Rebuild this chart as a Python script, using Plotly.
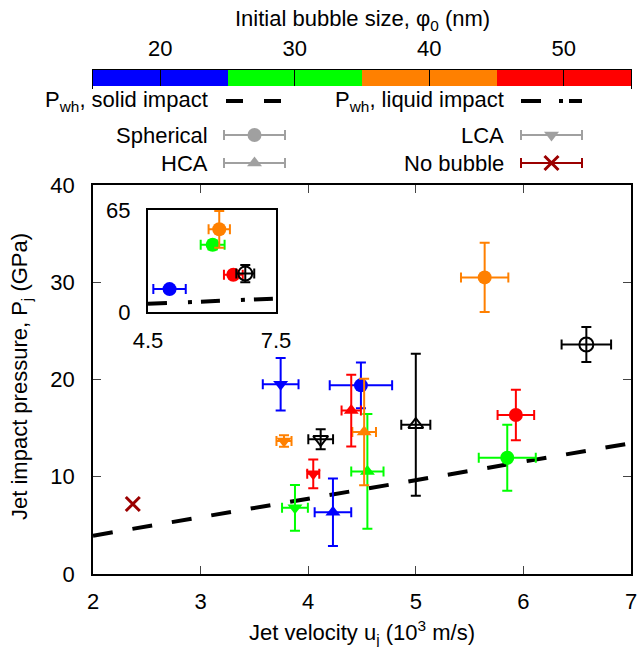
import plotly.graph_objects as go

FONT = "Liberation Sans, Arial, Helvetica, sans-serif"
FS = 22

# ---------------- data ----------------
size_colors = {20: "#0000ff", 30: "#00ff00", 40: "#ff8000", 50: "#ff0000", 0: "#000000"}
cbar_sizes = [20, 30, 40, 50]
cbar_edges = [15, 25, 35, 45, 55]
cbar_ticks = [20, 30, 40, 50]

# water-hammer pressure lines
solid_u = [2.0, 7.0]
solid_p = [3.94, 13.45]
liquid_u = [4.5, 7.5]
liquid_p = [5.2, 8.6]

# Spherical bubbles (size 0 = black open marker)
sph_u = [4.49, 5.64, 5.93, 5.85, 6.585]
sph_p = [19.4, 30.5, 16.35, 11.95, 23.6]
sph_du = [0.29, 0.22, 0.17, 0.265, 0.23]
sph_dp = [2.35, 3.56, 2.6, 3.4, 1.8]
sph_size = [20, 40, 50, 30, 0]

# HCA bubbles
hca_u = [4.23, 4.55, 4.52, 4.40, 5.0]
hca_p = [6.35, 10.55, 14.6, 16.8, 15.35]
hca_du = [0.17, 0.15, 0.11, 0.09, 0.135]
hca_dp = [3.48, 5.9, 5.47, 3.7, 7.3]
hca_size = [20, 30, 40, 50, 0]

# LCA bubbles
lca_u = [3.744, 3.877, 3.775, 4.047, 4.116]
lca_p = [19.5, 6.8, 13.68, 10.3, 13.85]
lca_du = [0.166, 0.12, 0.07, 0.056, 0.115]
lca_dp = [2.7, 2.34, 0.6, 1.48, 1.03]
lca_size = [20, 30, 40, 50, 0]

# No bubble
nobub_u = [2.37]
nobub_p = [7.2]

# Inset (spherical, liquid impact)
inset_u = [5.005, 6.015, 6.17, 6.5, 6.78]
inset_p = [14.6, 42.8, 52.7, 23.7, 24.5]
inset_du = [0.38, 0.28, 0.25, 0.22, 0.21]
inset_dp = [1.5, 3.0, 11.7, 2.0, 5.5]
inset_size = [20, 30, 40, 50, 0]

GREY = "#a0a0a0"
DARKRED = "#9b0000"
DASH_SOLID = "20px,20px"
DASH_LIQ = "19px,21px,4px,9px"

fig = go.Figure()


def add_points(us, ps, dus, dps, sizes, symbol, xa="x", ya="y", msize=13):
    for u, p, du, dp, s in zip(us, ps, dus, dps, sizes):
        c = size_colors[s]
        sym = symbol if s != 0 else symbol + "-open"
        fig.add_trace(go.Scatter(
            x=[u], y=[p], mode="markers", xaxis=xa, yaxis=ya, showlegend=False,
            marker=dict(symbol=sym, size=msize, color=c,
                        line=dict(width=2 if s == 0 else 0, color=c)),
            error_x=dict(type="data", array=[du], color=c, thickness=2, width=5),
            error_y=dict(type="data", array=[dp], color=c, thickness=2, width=5),
            cliponaxis=False,
        ))


# main plot
fig.add_trace(go.Scatter(x=solid_u, y=solid_p, mode="lines", showlegend=False,
                         line=dict(color="black", width=4, dash=DASH_SOLID)))
add_points(sph_u, sph_p, sph_du, sph_dp, sph_size, "circle", msize=14)
add_points(hca_u, hca_p, hca_du, hca_dp, hca_size, "triangle-up")
add_points(lca_u, lca_p, lca_du, lca_dp, lca_size, "triangle-down")
fig.add_trace(go.Scatter(x=nobub_u, y=nobub_p, mode="markers", showlegend=False,
                         marker=dict(symbol="x-thin", size=14,
                                     line=dict(width=3, color=DARKRED))))

# inset
fig.add_trace(go.Scatter(x=liquid_u, y=liquid_p, mode="lines", showlegend=False,
                         xaxis="x3", yaxis="y3",
                         line=dict(color="black", width=4, dash=DASH_LIQ)))
add_points(inset_u, inset_p, inset_du, inset_dp, inset_size, "circle", "x3", "y3", msize=14)

# colour bar (heatmap strip)
fig.add_trace(go.Heatmap(
    x=cbar_edges, y=[0], z=[cbar_sizes], xaxis="x2", yaxis="y2", showscale=False,
    colorscale=[[0, size_colors[20]], [0.25, size_colors[20]],
                [0.25, size_colors[30]], [0.5, size_colors[30]],
                [0.5, size_colors[40]], [0.75, size_colors[40]],
                [0.75, size_colors[50]], [1, size_colors[50]]],
    zmin=15, zmax=55, hoverinfo="skip"))

# ---------------- legend (key) ----------------
row_y = [101, 135, 163]
lx0, lx1 = 224, 285
rx0, rx1 = 521, 582
fig.add_trace(go.Scatter(x=[226, 282], y=[row_y[0]] * 2, mode="lines", xaxis="x4", yaxis="y4",
                         showlegend=False, line=dict(color="black", width=4, dash="17px,21px")))
fig.add_trace(go.Scatter(x=[rx0, rx1], y=[row_y[0]] * 2, mode="lines", xaxis="x4", yaxis="y4",
                         showlegend=False, line=dict(color="black", width=4, dash="20px,18px,4px,6px")))


def key_sample(x0, x1, y, symbol, color, msize, lw=0):
    xc = (x0 + x1) / 2
    fig.add_trace(go.Scatter(
        x=[xc], y=[y], mode="markers", xaxis="x4", yaxis="y4", showlegend=False,
        marker=dict(symbol=symbol, size=msize, color=color, line=dict(width=lw, color=color)),
        error_x=dict(type="data", array=[(x1 - x0) / 2], color=color, thickness=2, width=5),
        cliponaxis=False))


key_sample(lx0, lx1, row_y[1], "circle", GREY, 14)
key_sample(lx0, lx1, row_y[2], "triangle-up", GREY, 13)
key_sample(rx0, rx1, row_y[1], "triangle-down", GREY, 13)
key_sample(rx0, rx1, row_y[2], "x-thin", DARKRED, 14, lw=3)

W, H = 642, 647
ML, MR, MT, MB = 93, 11, 65, 73
PW = W - ML - MR
PH = H - MT - MB


def px_x(px):
    return (px - ML) / PW


def px_y(py):
    return (H - MB - py) / PH


key_texts = [
    ("P<sub>wh</sub>, solid impact", 210, row_y[0]),
    ("Spherical", 210, row_y[1]),
    ("HCA", 210, row_y[2]),
    ("P<sub>wh</sub>, liquid impact", 506, row_y[0]),
    ("LCA", 506, row_y[1]),
    ("No bubble", 506, row_y[2]),
]
annotations = []
for txt, xr, yy in key_texts:
    annotations.append(dict(text=txt, x=px_x(xr), y=px_y(yy), xref="paper", yref="paper",
                            xanchor="right", yanchor="middle", showarrow=False,
                            font=dict(size=FS, color="black", family=FONT)))
annotations.append(dict(text="Initial bubble size, \u03c6<sub>0</sub> (nm)", x=px_x(362), y=px_y(20),
                        xref="paper", yref="paper", xanchor="center", yanchor="middle",
                        showarrow=False, font=dict(size=FS, color="black", family=FONT)))
annotations.append(dict(text="Jet velocity u<sub>j</sub> (10<sup>3</sup> m/s)", x=px_x(362), y=px_y(632),
                        xref="paper", yref="paper", xanchor="center", yanchor="middle",
                        showarrow=False, font=dict(size=FS, color="black", family=FONT)))
annotations.append(dict(text="Jet impact pressure, P<sub>j</sub> (GPa)", x=px_x(21), y=px_y(377),
                        xref="paper", yref="paper", xanchor="center", yanchor="middle",
                        textangle=-90,
                        showarrow=False, font=dict(size=FS, color="black", family=FONT)))

axis_common = dict(showgrid=False, zeroline=False, showline=True, mirror="ticks",
                   linecolor="black", linewidth=1.5, ticks="inside", ticklen=8,
                   tickcolor="#444", tickwidth=1, automargin=False,
                   tickfont=dict(size=FS, color="black", family=FONT))

fig.update_layout(
    width=W, height=H,
    margin=dict(l=ML, r=MR, t=MT, b=MB, autoexpand=False),
    paper_bgcolor="white", plot_bgcolor="white",
    font=dict(family=FONT, size=FS, color="black"),
    showlegend=False,
    xaxis=dict(range=[2, 7], domain=[0, 1], tickvals=[2, 3, 4, 5, 6, 7], anchor="y",
               ticklabelstandoff=7, **axis_common),
    yaxis=dict(range=[0, 40], domain=[0, px_y(185)], tickvals=[0, 10, 20, 30, 40], anchor="x",
               ticklabelstandoff=12, **axis_common),
    xaxis2=dict(range=[15, 55], domain=[0, 1], anchor="y2", side="top",
                tickvals=cbar_ticks, ticks="inside", ticklen=17, tickcolor="black", tickwidth=1,
                showline=True, mirror=True, linecolor="black", linewidth=1,
                showgrid=False, zeroline=False, ticklabelstandoff=4, automargin=False,
                tickfont=dict(size=FS, color="black", family=FONT), fixedrange=True),
    yaxis2=dict(range=[-0.5, 0.5], domain=[px_y(87.5), px_y(70)], anchor="x2",
                showticklabels=False, ticks="", showline=True, mirror=True, automargin=False,
                linecolor="black", linewidth=1, showgrid=False, zeroline=False, fixedrange=True),
    xaxis3=dict(range=[4.5, 7.5], domain=[px_x(148), px_x(276)], anchor="y3",
                tickvals=[4.5, 7.5], ticktext=["4.5", "7.5"], ticks="",
                showline=True, mirror=True, linecolor="black", linewidth=2, automargin=False,
                showgrid=False, zeroline=False, ticklabelstandoff=8,
                tickfont=dict(size=FS, color="black", family=FONT)),
    yaxis3=dict(range=[0, 65], domain=[px_y(312), px_y(210)], anchor="x3",
                tickvals=[0, 65], ticks="", automargin=False,
                showline=True, mirror=True, linecolor="black", linewidth=2,
                showgrid=False, zeroline=False, ticklabelstandoff=11,
                tickfont=dict(size=FS, color="black", family=FONT)),
    xaxis4=dict(range=[ML, W - MR], domain=[0, 1], anchor="y4", visible=False, fixedrange=True),
    yaxis4=dict(range=[182, 86], domain=[px_y(182), px_y(86)], anchor="x4",
                visible=False, fixedrange=True),
    annotations=annotations,
)

fig.write_html("out.html", config={"displayModeBar": False},
               post_script="document.body.style.margin='0';")
